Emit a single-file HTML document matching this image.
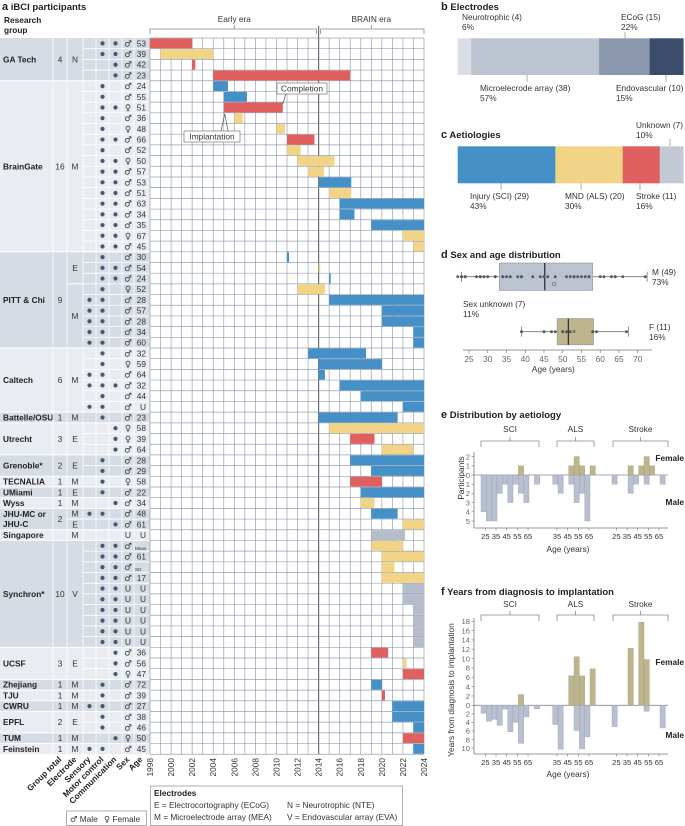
<!DOCTYPE html>
<html><head><meta charset="utf-8">
<style>
body{margin:0;background:#fff;}
svg{display:block;font-family:"Liberation Sans",sans-serif;font-size:8.3px;}
.t{fill:#333;}
.b{font-weight:bold;fill:#222;}
.sx{font-family:"DejaVu Sans",sans-serif;fill:#333;}
</style></head>
<body>
<svg id="fig" width="685" height="826" viewBox="0 0 685 826" xmlns="http://www.w3.org/2000/svg"></svg>
<script>
// ===== Panel a data =====
const ages=["53","39","42","23","24","55","51","36","48","66","52","50","57","53","51","63","34","35","67","45","30","54","24","52","28","57","28","34","60","32","59","64","32","44","U","23","58","39","64","28","29","58","22","34","48","61","U","Mean","61","SD","17","U","U","U","U","U","U","36","56","47","72","39","27","38","46","50","45"];
const sexes="MMMM"+"MMFMFMMFMMMMMMFM"+"MMMFMMMMM"+"MFMMMM"+"M"+"FFM"+"MM"+"F"+"M"+"M"+"MM"+"U"+"MMMMUUUUUU"+"MMF"+"M"+"M"+"M"+"MM"+"F"+"M";
const dots=["011","011","001","001","010","010","011","010","010","011","010","011","011","011","011","011","011","011","011","011","010","011","011","010","110","110","110","110","110","010","010","110","111","010","110","010","001","001","001","010","010","010","010","001","110","001","000","011","011","011","011","011","011","011","011","011","011","001","001","001","010","010","110","010","010","001","110"];
const barStart=[1998,1999,2002,2004,2004,2005,2005,2006,2010,2011,2011,2012,2013,2014,2015,2016,2016,2019,2022,2023,2011,2014,2015,2012,2015,2020,2020,2023,2023,2013,2014,2014,2016,2018,2022,2014,2015,2017,2020,2017,2019,2017,2018,2018,2019,2022,2019,2019,2020,2020,2020,2022,2022,2023,2023,2023,2023,2019,2022,2022,2019,2020,2021,2021,2023,2022,2023];
const barEnd=[2002,2004,2002.3,2017,2005.4,2007.2,2010.6,2006.8,2010.8,2013.6,2012.3,2015.5,2014.5,2017.1,2017.1,2024,2017.4,2024,2024,2024,2011.2,2014.15,2015.15,2014.6,2024,2024,2024,2024,2024,2018.5,2020,2014.6,2024,2024,2024,2021.5,2024,2019.3,2023,2024,2024,2020,2024,2019.3,2021.5,2024,2022.2,2022,2024,2021.2,2024,2024,2024,2024,2024,2024,2024,2020.6,2022.35,2024,2020,2020.3,2024,2024,2024,2024,2024];
const barType="ryrrbbryyryyybybbbyy"+"bybybbbbb"+"bbbbbbb"+"yrybbrbyb"+"ygyyyy"+"gggggg"+"ryrbrbbbrb";
const groupNames=["GA Tech","BrainGate","PITT & Chi","Caltech","Battelle/OSU","Utrecht","Grenoble*","TECNALIA","UMiami","Wyss","JHU-MC or|JHU-C","Singapore","Synchron*","UCSF","Zhejiang","TJU","CWRU","EPFL","TUM","Feinstein"];
const groupSizes=[4,16,9,6,1,3,2,1,1,1,2,1,10,3,1,1,1,2,1,1];
const groupTotals=["4","16","9","6","1","3","2","1","1","1","2","","10","3","1","1","1","2","1","1"];
const electrodeLabels=[["N"],["M"],["E","M"],["M"],["M"],["E"],["E"],["M"],["E"],["M"],["M","E"],["M"],["V"],["E"],["M"],["M"],["M"],["E"],["M"],["M"]];
const electrodeSpans=[[4],[16],[3,6],[6],[1],[3],[2],[1],[1],[1],[1,1],[1],[10],[3],[1],[1],[1],[2],[1],[1]];
const yearTicks=[1998,2000,2002,2004,2006,2008,2010,2012,2014,2016,2018,2020,2022,2024];

// ===== Panel b/c data =====
const elecNames=["Neurotrophic","Microelecrode array","ECoG","Endovascular"];
const elecCounts=[4,38,15,10];
const aetNames=["Injury (SCI)","MND (ALS)","Stroke","Unknown"];
const aetCounts=[29,20,11,7];

// ===== Panel d data =====
const maleAges=[53,39,42,23,24,55,36,66,52,57,53,51,63,34,35,45,30,54,24,28,57,28,34,60,32,64,32,44,23,64,28,29,22,34,48,61,36,56,72,39,27,38,46,45];
const femaleAges=[51,48,50,67,45,52,59,58,39,58,47,50];
const maleBox=[23,33.1,45.2,58,72.5];
const femaleBox=[39,48.5,51.5,58.2,67.5];
const maleMean=47.7, femaleMean=53;
const ageTicks=[25,30,35,40,45,50,55,60,65,70];

// ===== Panel e data =====
const eSciMaleBins=[20,25,30,35,40,45,50,55,60,70];
const eSciMale=[4,5,5,2,1,3,1,2,3,1];
const eSciFemaleBins=[55];
const eSciFemale=[1];
const eAlsMaleBins=[30,35,45,50,55,60];
const eAlsMale=[1,2,1,3,2,5];
const eAlsFemaleBins=[45,50,55,65];
const eAlsFemale=[1,2,1,1];
const eStrokeMaleBins=[20,35,40,50,65];
const eStrokeMale=[1,2,1,1,1];
const eStrokeFemaleBins=[35,45,50,55];
const eStrokeFemale=[1,1,2,1];

// ===== Panel f data =====
const fSciMaleBins=[20,25,30,35,40,45,50,55,60,70];
const fSciMale=[1.9,3.75,3.3,4.7,0.9,6.2,4,8.9,2.7,0.8];
const fSciFemaleBins=[55];
const fSciFemale=[2.3];
const fAlsMaleBins=[30,35,50,55,60];
const fAlsMale=[4.5,10.3,5.9,10.2,7.4];
const fAlsFemaleBins=[45,50,55,65];
const fAlsFemale=[6.3,10.4,6.3,7.8];
const fStrokeMaleBins=[20,50,65];
const fStrokeMale=[5,1.4,5.3];
const fStrokeFemaleBins=[35,45,50];
const fStrokeFemale=[12.2,17.8,9.8];

const NS="http://www.w3.org/2000/svg";
const svg=document.getElementById('fig');
function mk(tag,attrs,parent,txt){const e=document.createElementNS(NS,tag);for(const k in attrs)e.setAttribute(k,attrs[k]);if(txt!==undefined)e.textContent=txt;(parent||svg).appendChild(e);return e;}
function grp(name){const g=mk('g',{});return g;}

const RED="#e0605f",YEL="#f2d487",BLU="#4690c8",GRY="#b5bccb";
const colOf={r:RED,y:YEL,b:BLU,g:GRY};
const R0=38,RH=10.69,NR=67;
const yr=i=>R0+i*RH;
const X0=150,X1=424;
const xy=y=>X0+(y-1998)*(X1-X0)/26;

// ---- Panel a ----
const ga=grp('panel-a');
let t=mk('text',{x:2,y:10,class:'t b','font-size':'9.5'},ga);t.innerHTML='<tspan font-size="11">a</tspan> iBCI participants';

t=mk('text',{x:4,y:23,class:'t b'},ga,'Research');
t=mk('text',{x:4,y:33,class:'t b'},ga,'group');
const tbl=grp('participant-table');
let r=0;
groupNames.forEach((gname,gi)=>{
  const n=groupSizes[gi];
  const fill=gi%2===0?"#d6dce4":"#e9ecf0";
  const rr=mk('rect',{x:0,y:yr(r),width:150,height:n*RH,fill:fill},tbl);
  
  const cy=yr(r)+n*RH/2;
  const parts=gname.split('|');
  parts.forEach((p,pi)=>{
    const tt=mk('text',{x:3,y:cy+3+(pi-(parts.length-1)/2)*10,class:'t b','font-size':'8.3'},tbl,p);
    
  });
  mk('text',{x:60,y:cy+3,class:'t','text-anchor':'middle'},tbl,groupTotals[gi]);
  let rs=r;
  electrodeLabels[gi].forEach((el,ei)=>{
    const sp=electrodeSpans[gi][ei];
    mk('text',{x:75,y:yr(rs)+sp*RH/2+3,class:'t','text-anchor':'middle'},tbl,el);
    if(ei>0) mk('line',{x1:67,x2:83,y1:yr(rs),y2:yr(rs),stroke:'#fff','stroke-width':1},tbl);
    rs+=sp;
  });
  if(gi>0) mk('line',{x1:0,x2:150,y1:yr(r),y2:yr(r),stroke:'#fff','stroke-width':1},tbl);
  r+=n;
});
for(let i=1;i<NR;i++) mk('line',{x1:83,x2:150,y1:yr(i),y2:yr(i),stroke:'#fff','stroke-width':0.8},tbl);
[53,67,83,96,109,122,134].forEach(x=>mk('line',{x1:x,x2:x,y1:R0,y2:yr(NR),stroke:'#fff','stroke-width':0.8},tbl));
const dotX=[89.5,102.5,115.5];
for(let i=0;i<NR;i++){
  const cy=yr(i)+RH/2;
  for(let k=0;k<3;k++) if(dots[i][k]==='1'){
    const c=mk('circle',{cx:dotX[k],cy:cy,r:2.1,fill:'#4b5670'},tbl);
    
  }
  const s=sexes[i];
  mk('text',{x:128,y:cy+3,class:s==='U'?'t':'sx','text-anchor':'middle','font-size':'8.5'},tbl,s==='M'?'♂':s==='F'?'♀':'U');
  const a=ages[i];
  const small=(a==='Mean'||a==='SD');
  mk('text',{x:small?135:146,y:cy+(small?4:3),class:'t','text-anchor':small?'start':'end','font-size':small?'4.6':'8.3'},tbl,a);
}
const gg=grp('timeline-grid');
mk('rect',{x:X0,y:R0,width:X1-X0,height:NR*RH,fill:'#fff'},gg);
const gb=grp('timeline-bars');
for(let i=0;i<NR;i++){
  const x=xy(barStart[i]),w=xy(barEnd[i])-x;
  const b=mk('rect',{x:x,y:yr(i)+0.4,width:Math.max(w,1),height:RH-0.8,fill:colOf[barType[i]]},gb);
  
}
for(let y=1998;y<=2024;y++){
  mk('line',{x1:xy(y),x2:xy(y),y1:R0,y2:yr(NR),stroke:y===2014?'#6b6f78':'#7f8aa0','stroke-width':y===2014?1.2:0.7,'stroke-opacity':y===2014?1:0.8},gg);
}
for(let i=0;i<=NR;i++) mk('line',{x1:X0,x2:X1,y1:yr(i),y2:yr(i),stroke:'#7f8aa0','stroke-width':0.7,'stroke-opacity':0.8},gg);
mk('line',{x1:xy(2014),x2:xy(2014),y1:26,y2:R0,stroke:'#6b6f78','stroke-width':1.2},gg);
svg.appendChild(gb);
const ge=grp('era-brackets');
mk('path',{d:`M${X0} 34V29H${xy(2014)-2}V34M${(X0+xy(2014))/2} 29V25`,fill:'none',stroke:'#888','stroke-width':0.8},ge);
mk('path',{d:`M${xy(2014)+2} 34V29H${X1}V34M${(xy(2014)+X1)/2} 29V25`,fill:'none',stroke:'#888','stroke-width':0.8},ge);
mk('text',{x:(X0+xy(2014))/2,y:22,class:'t','text-anchor':'middle'},ge,'Early era');
mk('text',{x:(xy(2014)+X1)/2,y:22,class:'t','text-anchor':'middle'},ge,'BRAIN era');
const gn=grp('annotations');
mk('path',{d:`M${xy(2010.6)} ${yr(6)+2}L286 93`,stroke:'#555','stroke-width':0.7,fill:'none'},gn);
mk('rect',{x:277,y:83,width:50,height:11,fill:'#fff',stroke:'#777','stroke-width':0.7},gn);
mk('text',{x:302,y:91.5,class:'t','text-anchor':'middle'},gn,'Completion');
mk('path',{d:`M${xy(2005)+1} ${yr(7)+1}L221 131M${xy(2005)+1} ${yr(7)+1}L228 131`,stroke:'#555','stroke-width':0.7,fill:'none'},gn);
mk('rect',{x:184,y:131,width:56,height:11,fill:'#fff',stroke:'#777','stroke-width':0.7},gn);
mk('text',{x:212,y:139.5,class:'t','text-anchor':'middle'},gn,'Implantation');
const gy=grp('x-axis-years');
yearTicks.forEach(y=>{
  const tt=mk('text',{transform:`translate(${xy(y)+3},758) rotate(-90)`,class:'t','text-anchor':'end'},gy,String(y));
  
});
const gh=grp('column-headers');
[["Group total",62],["Electrode",77],["Sensory",91],["Motor control",104],["Communication",117],["Sex",130],["Age",143]].forEach(([s,x])=>{
  mk('text',{transform:`translate(${x},760) rotate(-45)`,class:'t b','text-anchor':'end'},gh,s);
});
const gl=grp('electrodes-legend');
mk('rect',{x:150.5,y:786,width:252,height:39.5,fill:'#fff',stroke:'#999','stroke-width':0.8},gl);
mk('text',{x:154,y:796,class:'t b'},gl,'Electrodes');
mk('text',{x:154,y:808,class:'t'},gl,'E = Electrocortography (ECoG)');
mk('text',{x:287,y:808,class:'t'},gl,'N = Neurotrophic (NTE)');
mk('text',{x:154,y:820,class:'t'},gl,'M = Microelectrode array (MEA)');
mk('text',{x:287,y:820,class:'t'},gl,'V = Endovascular array (EVA)');
const gs=grp('sex-legend');
mk('rect',{x:66.5,y:811,width:80,height:14.5,fill:'#fff',stroke:'#999','stroke-width':0.8},gs);
t=mk('text',{x:70,y:822,class:'t'},gs);t.innerHTML='<tspan font-family="DejaVu Sans">♂</tspan> Male  <tspan font-family="DejaVu Sans" dx="4">♀</tspan> Female';

// ---- Panel b ----
const BX0=457.7,BX1=683.3;
function stackBar(name,counts,cols,y0,h){
  const g=grp(name);const tot=counts.reduce((a,b)=>a+b,0);let x=BX0;const xs=[];
  counts.forEach((c,i)=>{const w=c/tot*(BX1-BX0);const rr=mk('rect',{x:x,y:y0,width:w+0.3,height:h,fill:cols[i]},g);
    xs.push([x,w]);x+=w;});
  return xs;
}
const pb=grp('panel-b');
t=mk('text',{x:441,y:10,class:'t b','font-size':'9.5'},pb);t.innerHTML='<tspan font-size="11">b</tspan> Electrodes';
const ex=stackBar('electrode-bar',elecCounts,["#d9dee6","#bcc3d0","#8a97ad","#3c4d6b"],38.3,36.7);
const etot=elecCounts.reduce((a,b)=>a+b,0);
const pct=(c,tot)=>Math.round(c/tot*100)+'%';
mk('text',{x:462,y:20,class:'t'},pb,`${elecNames[0]} (${elecCounts[0]})`);mk('text',{x:462,y:30,class:'t'},pb,pct(elecCounts[0],etot));
mk('text',{x:621,y:20,class:'t'},pb,`${elecNames[2]} (${elecCounts[2]})`);mk('text',{x:621,y:30,class:'t'},pb,pct(elecCounts[2],etot));
mk('line',{x1:625,x2:625,y1:32,y2:38,stroke:'#888','stroke-width':0.7},pb);
mk('line',{x1:527,x2:527,y1:75,y2:82,stroke:'#888','stroke-width':0.7},pb);
mk('text',{x:480,y:91,class:'t'},pb,`${elecNames[1]} (${elecCounts[1]})`);mk('text',{x:480,y:101,class:'t'},pb,pct(elecCounts[1],etot));
mk('line',{x1:666,x2:666,y1:75,y2:82,stroke:'#888','stroke-width':0.7},pb);
mk('text',{x:616,y:91,class:'t'},pb,`${elecNames[3]} (${elecCounts[3]})`);mk('text',{x:616,y:101,class:'t'},pb,pct(elecCounts[3],etot));

// ---- Panel c ----
const pc=grp('panel-c');
t=mk('text',{x:441,y:138,class:'t b','font-size':'9.5'},pc);t.innerHTML='<tspan font-size="11">c</tspan> Aetiologies';
const cx=stackBar('aetiology-bar',aetCounts,[BLU,YEL,RED,"#c3c9d4"],146.3,37);
const atot=aetCounts.reduce((a,b)=>a+b,0);
[[470,501],[565,581],[636,640]].forEach(([tx,lx],i)=>{
  mk('line',{x1:lx,x2:lx,y1:183,y2:190,stroke:'#888','stroke-width':0.7},pc);
  mk('text',{x:tx,y:199,class:'t'},pc,`${aetNames[i]} (${aetCounts[i]})`);
  mk('text',{x:tx,y:209,class:'t'},pc,pct(aetCounts[i],atot));
});
mk('line',{x1:670,x2:670,y1:139,y2:146,stroke:'#888','stroke-width':0.7},pc);
mk('text',{x:636,y:128,class:'t'},pc,`${aetNames[3]} (${aetCounts[3]})`);
mk('text',{x:636,y:138,class:'t'},pc,pct(aetCounts[3],atot));

// ---- Panel d ----
const pd=grp('panel-d');
t=mk('text',{x:441,y:258,class:'t b','font-size':'9.5'},pd);t.innerHTML='<tspan font-size="11">d</tspan> Sex and age distribution';
const xa=a=>469+(a-25)*3.75;
function boxplot(name,box,pts,mean,y,h,fill,meanSym){
  const g=grp(name);
  mk('line',{x1:xa(box[0]),x2:xa(box[4]),y1:y,y2:y,stroke:'#777','stroke-width':0.8},g);
  mk('line',{x1:xa(box[0]),x2:xa(box[0]),y1:y-5,y2:y+5,stroke:'#777','stroke-width':0.8},g);
  mk('line',{x1:xa(box[4]),x2:xa(box[4]),y1:y-5,y2:y+5,stroke:'#777','stroke-width':0.8},g);
  mk('rect',{x:xa(box[1]),y:y-h/2,width:xa(box[3])-xa(box[1]),height:h,fill:fill,stroke:'#8a8f99','stroke-width':0.6},g);
  mk('line',{x1:xa(box[2]),x2:xa(box[2]),y1:y-h/2,y2:y+h/2,stroke:'#333','stroke-width':1.3},g);
  pts.forEach(a=>{const c=mk('circle',{cx:xa(a),cy:y,r:1.4,fill:'#555'},g);});
  if(meanSym==='o') mk('circle',{cx:xa(mean),cy:y+7.5,r:1.8,fill:'none',stroke:'#555','stroke-width':0.6},g);
  else mk('text',{x:xa(mean),y:y+2.5,'text-anchor':'middle','font-size':'7',fill:'#333'},g,'×');
}
boxplot('male-boxplot',maleBox,maleAges,maleMean,276.7,27.4,'#bcc3d0','o');
boxplot('female-boxplot',femaleBox,femaleAges,femaleMean,331.7,26.3,'#bcb58e','x');
mk('text',{x:652,y:275,class:'t'},pd,'M (49)');mk('text',{x:652,y:285,class:'t'},pd,'73%');
mk('text',{x:463,y:307,class:'t'},pd,'Sex unknown (7)');mk('text',{x:463,y:317,class:'t'},pd,'11%');
mk('text',{x:649,y:330,class:'t'},pd,'F (11)');mk('text',{x:649,y:340,class:'t'},pd,'16%');
mk('line',{x1:463,x2:652,y1:350,y2:350,stroke:'#777','stroke-width':0.8},pd);
ageTicks.forEach(a=>{mk('line',{x1:xa(a),x2:xa(a),y1:350,y2:353,stroke:'#777','stroke-width':0.7},pd);
  mk('text',{x:xa(a),y:362,class:'t','text-anchor':'middle',style:'fill:#666'},pd,String(a));});
mk('text',{x:xa(47.5),y:372,class:'t','text-anchor':'middle'},pd,'Age (years)');

// ---- Panels e & f ----
const PX=1.067, BW=5.33;
const grpX0={SCI:481,ALS:542,Stroke:612};
const grpTicks={SCI:[25,35,45,55,65],ALS:[35,45,55,65],Stroke:[25,35,45,55,65]};
const grpBr={SCI:[481,539],ALS:[557,594],Stroke:[613,668]};
function panelBars(g,key,mBins,mVals,fBins,fVals,zeroY,upS,dnS){
  const x0=grpX0[key];
  mBins.forEach((a,i)=>{const b=mk('rect',{x:x0+(a-20)*PX,y:zeroY,width:BW,height:mVals[i]*dnS,fill:'#b8c0cf',stroke:'#9aa3b5','stroke-width':0.4},g);
    });
  fBins.forEach((a,i)=>{const b=mk('rect',{x:x0+(a-20)*PX,y:zeroY-fVals[i]*upS,width:BW,height:fVals[i]*upS,fill:'#bcb58e',stroke:'#a39c74','stroke-width':0.4},g);
    });
}
function brackets(g,yTop,yLab){
  ["SCI","ALS","Stroke"].forEach(k=>{const [a,b]=grpBr[k];
    mk('path',{d:`M${a} ${yTop+6}V${yTop}H${b}V${yTop+6}M${(a+b)/2} ${yTop}V${yTop-4}`,fill:'none',stroke:'#888','stroke-width':0.8},g);
    mk('text',{x:(a+b)/2,y:yLab,class:'t','text-anchor':'middle'},g,k);});
}
function xTicks(g,yAxis,yLab,yTitle){
  mk('line',{x1:474,x2:668,y1:yAxis,y2:yAxis,stroke:'#777','stroke-width':0.8},g);
  ["SCI","ALS","Stroke"].forEach(k=>grpTicks[k].forEach(a=>{const x=grpX0[k]+(a-20)*PX-1;
    mk('line',{x1:x,x2:x,y1:yAxis,y2:yAxis+2.5,stroke:'#777','stroke-width':0.6},g);
    mk('text',{x:x,y:yLab,class:'t','text-anchor':'middle','font-size':'7.6'},g,String(a));}));
  mk('text',{x:568,y:yTitle,class:'t','text-anchor':'middle'},g,'Age (years)');
}
const pe=grp('panel-e');
t=mk('text',{x:441,y:418,class:'t b','font-size':'9.5'},pe);t.innerHTML='<tspan font-size="11">e</tspan> Distribution by aetiology';
brackets(pe,441,432);
const eZ=475,eS=9.2;
mk('line',{x1:474,x2:668,y1:eZ,y2:eZ,stroke:'#888','stroke-width':0.8},pe);
panelBars(pe,'SCI',eSciMaleBins,eSciMale,eSciFemaleBins,eSciFemale,eZ,eS,eS);
panelBars(pe,'ALS',eAlsMaleBins,eAlsMale,eAlsFemaleBins,eAlsFemale,eZ,eS,eS);
panelBars(pe,'Stroke',eStrokeMaleBins,eStrokeMale,eStrokeFemaleBins,eStrokeFemale,eZ,eS,eS);
mk('line',{x1:474,x2:474,y1:452,y2:528,stroke:'#777','stroke-width':0.8},pe);
[[2,-2],[1,-1],[0,0],[1,1],[2,2],[3,3],[4,4],[5,5]].forEach(([l,v])=>{const y=eZ+v*eS;
  mk('line',{x1:471.5,x2:474,y1:y,y2:y,stroke:'#777','stroke-width':0.6},pe);
  mk('text',{x:470,y:y+2.8,class:'t','text-anchor':'end','font-size':'7.6',style:'fill:#666'},pe,String(l));});
xTicks(pe,528,539,552);
mk('text',{transform:'translate(464,478) rotate(-90)',class:'t','text-anchor':'middle'},pe,'Participants');
mk('text',{x:684,y:461,class:'t b','text-anchor':'end'},pe,'Female');
mk('text',{x:684,y:505,class:'t b','text-anchor':'end'},pe,'Male');
const pf=grp('panel-f');
t=mk('text',{x:441,y:595,class:'t b','font-size':'9.5'},pf);t.innerHTML='<tspan font-size="11">f</tspan> Years from diagnosis to implantation';
brackets(pf,615,607);
const fZ=705.3,fUp=4.67,fDn=4.27;
mk('line',{x1:474,x2:668,y1:fZ,y2:fZ,stroke:'#888','stroke-width':0.8},pf);
panelBars(pf,'SCI',fSciMaleBins,fSciMale,fSciFemaleBins,fSciFemale,fZ,fUp,fDn);
panelBars(pf,'ALS',fAlsMaleBins,fAlsMale,fAlsFemaleBins,fAlsFemale,fZ,fUp,fDn);
panelBars(pf,'Stroke',fStrokeMaleBins,fStrokeMale,fStrokeFemaleBins,fStrokeFemale,fZ,fUp,fDn);
mk('line',{x1:474,x2:474,y1:618,y2:754,stroke:'#777','stroke-width':0.8},pf);
[18,16,14,12,10,8,6,4,2].forEach(v=>{const y=fZ-v*fUp;
  mk('line',{x1:471.5,x2:474,y1:y,y2:y,stroke:'#777','stroke-width':0.6},pf);
  mk('text',{x:470,y:y+2.8,class:'t','text-anchor':'end','font-size':'7.6',style:'fill:#666'},pf,String(v));});
[0,2,4,6,8,10].forEach(v=>{const y=fZ+v*fDn;
  mk('line',{x1:471.5,x2:474,y1:y,y2:y,stroke:'#777','stroke-width':0.6},pf);
  mk('text',{x:470,y:y+2.8,class:'t','text-anchor':'end','font-size':'7.6',style:'fill:#666'},pf,String(v));});
xTicks(pf,754,765,777);
mk('text',{transform:'translate(454,690) rotate(-90)',class:'t','text-anchor':'middle'},pf,'Years from diagnosis to implantation');
mk('text',{x:684,y:665,class:'t b','text-anchor':'end'},pf,'Female');
mk('text',{x:684,y:738,class:'t b','text-anchor':'end'},pf,'Male');
</script>
</body></html>
